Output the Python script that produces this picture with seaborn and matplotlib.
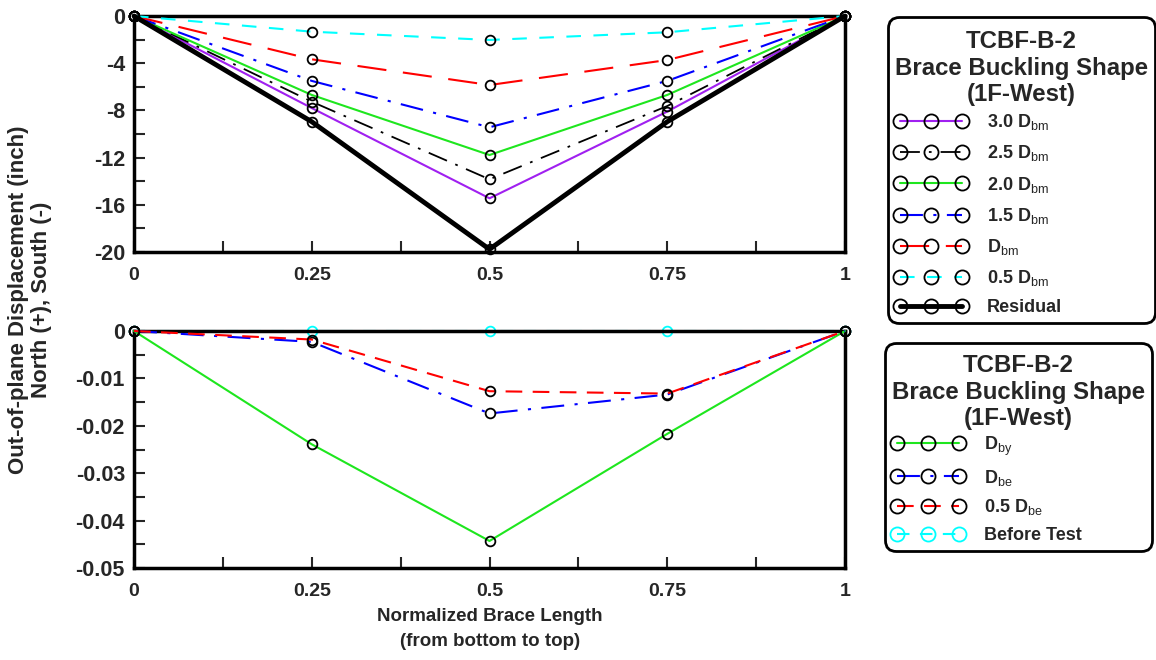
import matplotlib
matplotlib.use("Agg")
import matplotlib.pyplot as plt
import seaborn as sns
from matplotlib.ticker import FixedLocator, FixedFormatter, MultipleLocator
from matplotlib.offsetbox import DrawingArea

# Normalized position along the brace (bottom to top)
position = [0, 0.25, 0.5, 0.75, 1.0]

# Post-buckling cycles: out-of-plane displacement (inch)
disp_3p0_dbm = [0, -7.80, -15.45, -8.10, 0]
disp_2p5_dbm = [0, -7.26, -13.84, -7.63, 0]
disp_2p0_dbm = [0, -6.69, -11.78, -6.69, 0]
disp_1p5_dbm = [0, -5.50, -9.43, -5.50, 0]
disp_1p0_dbm = [0, -3.67, -5.85, -3.73, 0]
disp_0p5_dbm = [0, -1.33, -2.03, -1.38, 0]
disp_residual = [0, -8.96, -19.77, -8.96, 0]

# Pre-buckling cycles: out-of-plane displacement (inch)
disp_dby = [0, -0.0239, -0.0443, -0.0217, 0]
disp_dbe = [0, -0.0023, -0.0174, -0.0134, 0]
disp_half_dbe = [0, -0.0018, -0.0127, -0.0132, 0]
disp_before = [0, 0, 0, 0, 0]

top_labels = [r"3.0 D$_\mathrm{bm}$", r"2.5 D$_\mathrm{bm}$",
              r"2.0 D$_\mathrm{bm}$", r"1.5 D$_\mathrm{bm}$",
              r"D$_\mathrm{bm}$", r"0.5 D$_\mathrm{bm}$", "Residual"]
bottom_labels = [r"D$_\mathrm{by}$", r"D$_\mathrm{be}$",
                 r"0.5 D$_\mathrm{be}$", "Before Test"]
legend_title = "TCBF-B-2\nBrace Buckling Shape\n(1F-West)"

x_ticks = [0, 0.25, 0.5, 0.75, 1]
x_ticklabels = ["0", "0.25", "0.5", "0.75", "1"]
top_yticks = [0, -4, -8, -12, -16, -20]
top_yticklabels = ["0", "-4", "-8", "-12", "-16", "-20"]
bot_yticks = [0, -0.01, -0.02, -0.03, -0.04, -0.05]
bot_yticklabels = ["0", "-0.01", "-0.02", "-0.03", "-0.04", "-0.05"]

sns.set_style("white")
plt.rcParams["font.family"] = ["Liberation Sans", "DejaVu Sans"]
plt.rcParams["font.weight"] = "bold"
plt.rcParams["axes.unicode_minus"] = False
plt.rcParams["mathtext.fontset"] = "custom"
plt.rcParams["mathtext.rm"] = "Liberation Sans:weight=normal"
plt.rcParams["mathtext.it"] = "Liberation Sans:italic:weight=normal"
plt.rcParams["mathtext.bf"] = "Liberation Sans:weight=bold"

W, H = 1156, 660
fig = plt.figure(figsize=(W / 100, H / 100), dpi=100)


def frac_axes(left, top, right, bottom):
    return fig.add_axes([left / W, 1 - bottom / H, (right - left) / W, (bottom - top) / H])


ax_top = frac_axes(134, 16, 845, 252)
ax_bot = frac_axes(134, 331, 845, 568)

purple = "#a020f0"
green = "#1ee61e"
blue = "#0000ff"
red = "#ff0000"
cyan = "#00ffff"

marker_kw = dict(marker="o", markersize=7, markerfacecolor="none",
                 markeredgecolor="black", markeredgewidth=1.3, clip_on=False)

dashdot = (0, (11, 5, 1.5, 5))
top_series = [
    (disp_3p0_dbm, purple, "-", 1.5, 3),
    (disp_2p5_dbm, "black", dashdot, 1.3, 3),
    (disp_2p0_dbm, green, "-", 1.5, 3),
    (disp_1p5_dbm, blue, dashdot, 1.5, 3),
    (disp_1p0_dbm, red, (0, (14, 8)), 1.5, 3),
    (disp_0p5_dbm, cyan, (0, (7, 6)), 1.5, 3),
    (disp_residual, "black", "-", 3.5, 3),
]
for (vals, color, ls, lw, z), label in zip(top_series, top_labels):
    sns.lineplot(x=position, y=vals, ax=ax_top, color=color, linestyle=ls,
                 linewidth=lw, label=label, legend=False, zorder=z, **marker_kw)

bot_series = [
    (disp_dby, green, "-", 1.5, "black", 3),
    (disp_dbe, blue, dashdot, 1.5, "black", 3),
    (disp_half_dbe, red, (0, (8, 5)), 1.5, "black", 3),
    (disp_before, cyan, (0, (6, 5)), 1.5, cyan, 2),
]
for (vals, color, ls, lw, mec, z), label in zip(bot_series, bottom_labels):
    kw = dict(marker_kw)
    kw["markeredgecolor"] = mec
    sns.lineplot(x=position, y=vals, ax=ax_bot, color=color, linestyle=ls,
                 linewidth=lw, label=label, legend=False, zorder=z, **kw)

for ax, yt, ytl, ymin, yminor in [
    (ax_top, top_yticks, top_yticklabels, -20, 2),
    (ax_bot, bot_yticks, bot_yticklabels, -0.05, 0.005),
]:
    ax.set_xlim(0, 1)
    ax.set_ylim(ymin, 0)
    ax.xaxis.set_major_locator(FixedLocator(x_ticks))
    ax.xaxis.set_major_formatter(FixedFormatter(x_ticklabels))
    ax.xaxis.set_minor_locator(MultipleLocator(0.125))
    ax.yaxis.set_major_locator(FixedLocator(yt))
    ax.yaxis.set_major_formatter(FixedFormatter(ytl))
    ax.yaxis.set_minor_locator(MultipleLocator(yminor))
    ax.tick_params(which="both", direction="in", length=8, width=1.5,
                   top=False, right=False, left=True, bottom=True)
    ax.tick_params(axis="x", which="major", pad=11, labelsize=14)
    ax.tick_params(axis="y", which="major", pad=6.5, labelsize=15.5)
    for lab in ax.get_xticklabels() + ax.get_yticklabels():
        lab.set_weight("bold")
    for sp in ax.spines.values():
        sp.set_linewidth(2.5)
        sp.set_color("black")
    ax.set_xlabel("")
    ax.set_ylabel("")
    ax.set_facecolor("white")
    ax.grid(False)

fig.text(30 / W, 1 - 300 / H,
         "Out-of-plane Displacement (inch)\nNorth (+), South (-)",
         rotation=90, ha="center", va="center", fontsize=16,
         fontweight="bold", linespacing=1.1)
fig.text(490 / W, 1 - 629 / H,
         "Normalized Brace Length\n(from bottom to top)",
         ha="center", va="center", fontsize=13.5, fontweight="bold",
         linespacing=1.55)


def add_legend(ax, anchor, spacing, title_gap):
    handles, labels = ax.get_legend_handles_labels()
    leg = fig.legend(handles, labels, loc="upper left",
                     bbox_to_anchor=anchor, borderaxespad=0, title=legend_title,
                     numpoints=3, markerscale=1.45, handlelength=4.0,
                     handletextpad=1.1, labelspacing=spacing, borderpad=0.38,
                     alignment="left",
                     fancybox=True, framealpha=1, edgecolor="black",
                     prop={"size": 13, "weight": "bold"},
                     title_fontproperties={"size": 17.3, "weight": "bold"})
    leg.get_frame().set_linewidth(2)
    leg.get_frame().set_boxstyle("round", pad=0.0, rounding_size=0.6)
    leg.get_title().set_multialignment("center")
    # extra room above the title and between title and entries
    box = leg._legend_box
    box._children.insert(0, DrawingArea(1, 0))
    box.sep = title_gap
    leg._legend_title_box.align = "center"
    return leg


add_legend(ax_top, (888 / W, 1 - 17 / H), 0.62, 4.4)
add_legend(ax_bot, (885 / W, 1 - 343 / H), 0.55, 3.0)

fig.savefig("out.png", dpi=100, facecolor="white")
